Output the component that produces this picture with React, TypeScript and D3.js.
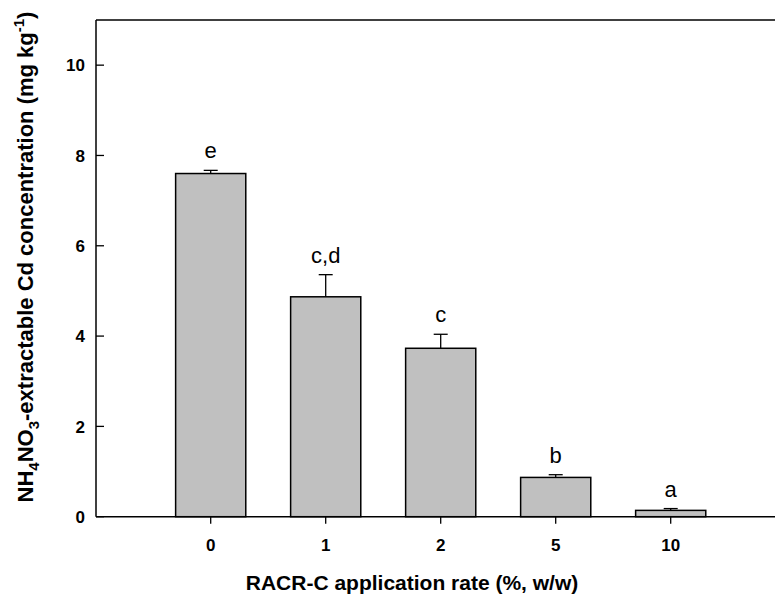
import React from "react";
import * as d3 from "d3";

const categories = ["0", "1", "2", "5", "10"];
const values = [7.6, 4.87, 3.73, 0.87, 0.14];
const errors = [0.07, 0.49, 0.31, 0.06, 0.04];
const letters = ["e", "c,d", "c", "b", "a"];
const yTicks = [0, 2, 4, 6, 8, 10];

const W = 775;
const H = 598;
const left = 96;
const top = 20;
const bottom = 516.7;
const right = 775;

export default function App() {
  const x = d3
    .scaleBand<string>()
    .domain(categories)
    .range([153.2, 728.2])
    .paddingInner(0.39)
    .paddingOuter(0.195);
  const y = d3.scaleLinear().domain([0, 11]).range([bottom, top]);
  const font = "Arial, 'Liberation Sans', Helvetica, sans-serif";
  const bw = x.bandwidth();

  return (
    <svg
      width={W}
      height={H}
      style={{ position: "absolute", left: 0, top: 0, background: "#fff" }}
      fontFamily={font}
    >
      {/* bars */}
      {categories.map((c, i) => {
        const x0 = x(c)!;
        const cx = x0 + bw / 2;
        const yt = y(values[i]);
        const ye = y(values[i] + errors[i]);
        return (
          <g key={c}>
            <line x1={cx} x2={cx} y1={yt} y2={ye} stroke="#000" strokeWidth={1.3} />
            <line x1={cx - 7} x2={cx + 7} y1={ye} y2={ye} stroke="#000" strokeWidth={1.3} />
            <rect
              x={x0}
              y={yt}
              width={bw}
              height={bottom - yt}
              fill="#c0c0c0"
              stroke="#000"
              strokeWidth={1.5}
            />
            <text
              x={cx}
              y={ye - 12}
              textAnchor="middle"
              fontSize={22}
              fill="#000"
            >
              {letters[i]}
            </text>
          </g>
        );
      })}
      {/* axes */}
      <line x1={left} x2={left} y1={top} y2={bottom} stroke="#000" strokeWidth={1.5} />
      <line x1={left} x2={right} y1={top} y2={top} stroke="#000" strokeWidth={1.5} />
      <line x1={left} x2={right} y1={bottom} y2={bottom} stroke="#000" strokeWidth={1.5} />
      {yTicks.map((t) => (
        <g key={t}>
          <line x1={left} x2={left + 8} y1={y(t)} y2={y(t)} stroke="#000" strokeWidth={1.3} />
          <text
            x={left - 11}
            y={y(t)}
            dy="0.36em"
            textAnchor="end"
            fontSize={17}
            fontWeight="bold"
          >
            {t}
          </text>
        </g>
      ))}
      {categories.map((c) => {
        const cx = x(c)! + bw / 2;
        return (
          <g key={"xt" + c}>
            <line x1={cx} x2={cx} y1={bottom} y2={bottom + 7} stroke="#000" strokeWidth={1.3} />
            <text x={cx} y={551} textAnchor="middle" fontSize={17} fontWeight="bold">
              {c}
            </text>
          </g>
        );
      })}
      <text
        x={412}
        y={590}
        textAnchor="middle"
        fontSize={21}
        fontWeight="bold"
      >
        RACR-C application rate (%, w/w)
      </text>
      <text
        transform={`translate(33, 257) rotate(-90)`}
        textAnchor="middle"
        fontSize={22}
        fontWeight="bold"
      >
        NH
        <tspan fontSize={15} dy={6}>4</tspan>
        <tspan dy={-6}>NO</tspan>
        <tspan fontSize={15} dy={6}>3</tspan>
        <tspan dy={-6}>-extractable Cd concentration (mg kg</tspan>
        <tspan fontSize={15} dy={-9}>-1</tspan>
        <tspan dy={9}>)</tspan>
      </text>
    </svg>
  );
}
